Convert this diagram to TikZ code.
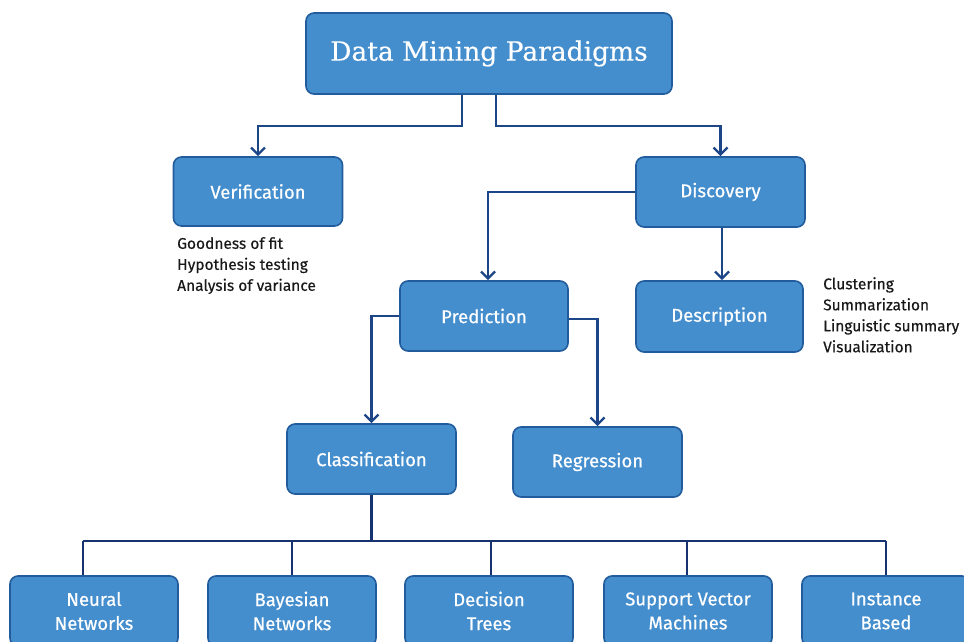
\documentclass[tikz,border=0pt]{standalone}
\usepackage{fontspec}
\setmainfont{Fira Sans}
\newfontfamily\boxfont{Fira Sans}[FakeBold=0.5]
\newfontfamily\notefont{Fira Sans}[FakeBold=0.3]
\newfontfamily\titlefont{DejaVu Serif}[FakeBold=0.3]
\usetikzlibrary{arrows.meta}
\definecolor{boxfill}{RGB}{68,142,206}
\definecolor{boxedge}{RGB}{34,92,156}
\definecolor{linkcol}{RGB}{28,70,136}
\definecolor{buscol}{RGB}{22,50,112}
\definecolor{notecol}{RGB}{25,25,25}
\tikzset{
  box/.style={draw=boxedge, line width=1.6pt, fill=boxfill, rounded corners=8pt,
    text=white, font=\boxfont\fontsize{18.5}{24}\selectfont, align=center, inner sep=0pt},
  link/.style={draw=linkcol, line width=2.6pt,
    -{Straight Barb[length=7pt,width=14pt,line width=2.4pt]}},
  bus/.style={draw=buscol, line width=2.6pt},
  note/.style={text=notecol, font=\notefont\fontsize{15.5}{21}\selectfont, align=left,
    anchor=north west, inner sep=0pt}
}
\begin{document}
\begin{tikzpicture}[x=1pt,y=-1pt]
\useasboundingbox (0,0) rectangle (964,642);
\clip (0,0) rectangle (964,642);

% boxes
\node[box, minimum width=366, minimum height=81, font=\titlefont\fontsize{26.5}{30}\selectfont]
  (top) at (489,53.5) {Data Mining Paradigms};
\node[box, minimum width=169, minimum height=69] (ver) at (258,191.5) {Verification};
\node[box, minimum width=169, minimum height=70] (dis) at (720.5,192) {Discovery};
\node[box, minimum width=167, minimum height=71] (des) at (719.5,316.5) {Description};
\node[box, minimum width=168, minimum height=70] (pre) at (484,316) {Prediction};
\node[box, minimum width=169, minimum height=70] (cls) at (371.5,459) {Classification};
\node[box, minimum width=169, minimum height=70] (reg) at (597.5,462) {Regression};

\node[box, minimum width=168, minimum height=70] (nn)  at (94,611)  {Neural\\Networks};
\node[box, minimum width=168, minimum height=70] (bn)  at (292,611) {Bayesian\\Networks};
\node[box, minimum width=168, minimum height=70] (dt)  at (489,611) {Decision\\Trees};
\node[box, minimum width=168, minimum height=70] (svm) at (688,611) {Support Vector\\Machines};
\node[box, minimum width=168, minimum height=70] (ib)  at (886,611) {Instance\\Based};

% notes
\node[note] (vnote) at (177,237) {Goodness of fit\\Hypothesis testing\\Analysis of variance};
\node[note] (dnote) at (823,277) {Clustering\\Summarization\\Linguistic summary\\Visualization};

% connectors
\draw[link] ([xshift=-27pt]top.south) -- ++(0,31) -| (ver.north);
\draw[link] ([xshift=7pt]top.south) -- ++(0,31) -| (dis.north);
\draw[link] (dis.west) -| ([xshift=4pt]pre.north);
\draw[link] ([xshift=1.5pt]dis.south) -- ([xshift=2.5pt]des.north);
\draw[link] (pre.west) -| (cls.north);
\draw[link] ([yshift=-3pt]pre.east) -| (reg.north);

% classification bus
\coordinate (busL) at (83,541);
\coordinate (busR) at (886,541);
\draw[bus] (busL) -- (busR);
\draw[bus] (cls.south) -- (cls.south |- busL);
\draw[bus] ([xshift=-11pt]nn.north) -- ([xshift=-11pt]nn.north |- busL);
\draw[bus] (bn.north) -- (bn.north |- busL);
\draw[bus] ([xshift=2pt]dt.north) -- ([xshift=2pt]dt.north |- busL);
\draw[bus] ([xshift=-1pt]svm.north) -- ([xshift=-1pt]svm.north |- busL);
\draw[bus] (ib.north) -- (ib.north |- busL);
\end{tikzpicture}
\end{document}
